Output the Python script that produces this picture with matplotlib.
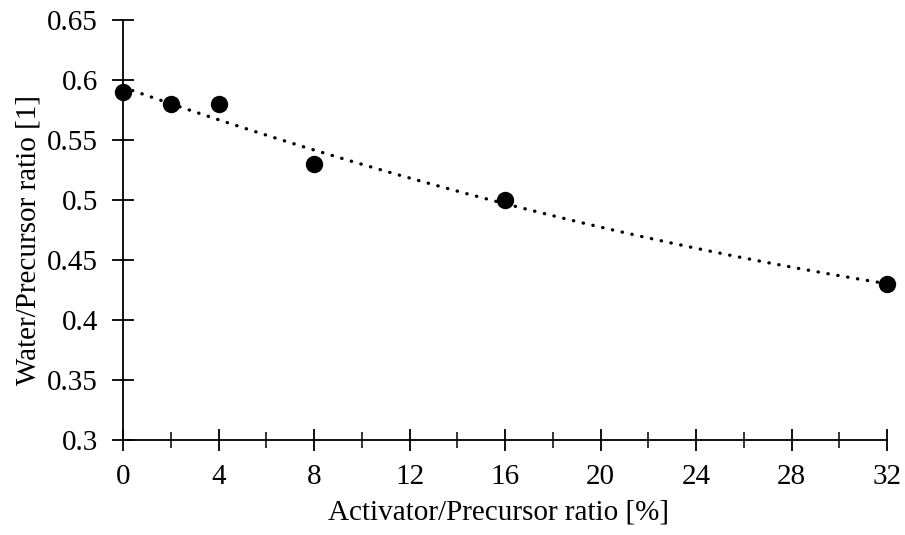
import numpy as np
import matplotlib
matplotlib.use("Agg")
import matplotlib.pyplot as plt

# Messwerte
activator = [0, 2, 4, 8, 16, 32]          # Activator/Precursor ratio [%]
water = [0.59, 0.58, 0.58, 0.53, 0.50, 0.43]  # Water/Precursor ratio [1]

x_ticks = [0, 4, 8, 12, 16, 20, 24, 28, 32]
y_ticks = [0.3, 0.35, 0.4, 0.45, 0.5, 0.55, 0.6, 0.65]
y_labels = ["0.3", "0.35", "0.4", "0.45", "0.5", "0.55", "0.6", "0.65"]

plt.rcParams['font.family'] = ['Liberation Serif', 'DejaVu Serif']

fig = plt.figure(figsize=(9.05, 5.35), dpi=100)
ax = fig.add_axes([123 / 905, 95 / 535, (887 - 123) / 905, (440 - 20) / 535])

# Trendlinie (Polynom 2. Grades)
coef = np.polyfit(activator, water, 2)
xs = np.linspace(0, 32, 200)
ax.plot(xs, np.polyval(coef, xs), color='black', linewidth=2.4,
        linestyle=(0, (0.1, 2.9)), dash_capstyle='round', zorder=2)

ax.plot(activator, water, 'o', color='black', markersize=11.5, zorder=3, clip_on=False)

ax.set_xlim(0, 32)
ax.set_ylim(0.3, 0.65)
ax.set_xticks(x_ticks)
ax.set_xticks(np.arange(2, 32, 4), minor=True)
ax.set_yticks(y_ticks)
ax.set_yticklabels(y_labels)

for side in ['top', 'right']:
    ax.spines[side].set_visible(False)
for side in ['left', 'bottom']:
    ax.spines[side].set_linewidth(1.3)

ax.tick_params(axis='both', which='major', direction='inout', length=16, width=1.3,
               labelsize=21)
ax.tick_params(axis='y', which='major', pad=10)
ax.tick_params(axis='x', which='major', pad=9)
ax.tick_params(axis='x', which='minor', direction='inout', length=12, width=1.1)

ax.set_xlabel('Activator/Precursor ratio [%]', fontsize=21)
ax.set_ylabel('Water/Precursor ratio [1]', fontsize=21)
ax.xaxis.set_label_coords(0.492, -0.142)
ax.yaxis.set_label_coords(-0.107, 0.476)

fig.savefig('out.png', dpi=100)
